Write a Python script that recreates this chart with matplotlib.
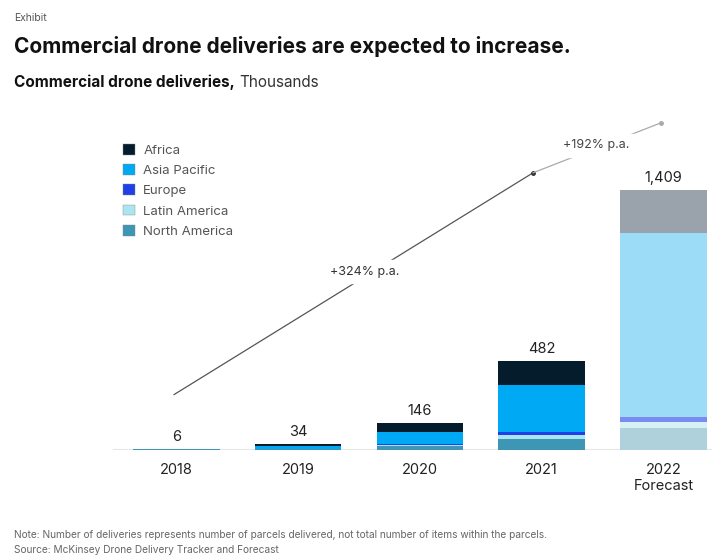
import matplotlib
matplotlib.use("Agg")
import matplotlib.pyplot as plt
from matplotlib.patches import Patch
import numpy as np

plt.rcParams["font.family"] = ["Inter", "DejaVu Sans"]

years = ["2018", "2019", "2020", "2021", "2022\nForecast"]
totals = [6, 34, 146, 482, 1409]
regions = ["Africa", "Asia Pacific", "Europe", "Latin America", "North America"]

# thousands of deliveries
north_america = [4, 4, 20, 58, 120]
latin_america = [0, 1, 6, 24, 33]
europe = [0, 1, 5, 16, 27]
asia_pacific = [1, 14, 65, 252, 993]
africa = [1, 14, 50, 132, 236]

colors = {
    "Africa": "#051c2c",
    "Asia Pacific": "#00a9f4",
    "Europe": "#1f40e6",
    "Latin America": "#aae6f0",
    "North America": "#3c96b4",
}
forecast_colors = {
    "Africa": "#9aa3ab",
    "Asia Pacific": "#9cdcf7",
    "Europe": "#7b8cf0",
    "Latin America": "#d6f2f7",
    "North America": "#aed1dc",
}

fig = plt.figure(figsize=(7.12, 5.58), dpi=100)
ax = fig.add_axes([0.159, 0.1935, 0.841, 0.6095])

x = np.arange(len(years))
width = 0.71
stack = [("North America", north_america), ("Latin America", latin_america),
         ("Europe", europe), ("Asia Pacific", asia_pacific), ("Africa", africa)]
bottom = np.zeros(len(years))
for name, vals in stack:
    vals = np.array(vals, dtype=float)
    cols = [colors[name]] * (len(years) - 1) + [forecast_colors[name]]
    ax.bar(x, vals, width, bottom=bottom, color=cols, linewidth=0)
    bottom += vals

for xi, t in zip(x, totals):
    ax.text(xi, bottom[xi] + 25, f"{t:,}", ha="center", va="bottom",
            fontsize=10.5, color="#222222")

ax.axhline(0, color="#e6e6e6", lw=1.5, zorder=0)

# growth arrows
ax.plot([-0.02, 2.93], [300, 1500], color="#555555", lw=0.9)
ax.plot([2.93], [1500], "o", color="#333333", ms=2.5)
ax.plot([2.93, 3.98], [1500, 1770], color="#aaaaaa", lw=0.9)
ax.plot([3.98], [1770], "o", color="#aaaaaa", ms=2.5)
ax.text(1.55, 965, "+324% p.a.", ha="center", va="center", fontsize=9,
        color="#333333", backgroundcolor="white")
ax.text(3.45, 1650, "+192% p.a.", ha="center", va="center", fontsize=9,
        color="#444444", backgroundcolor="white")

ax.set_xlim(-0.52, 4.4)
ax.set_ylim(0, 1840)
ax.set_xticks(x)
ax.set_xticklabels(years, fontsize=10.5, color="#222222")
ax.tick_params(axis="x", length=0, pad=9)
ax.set_yticks([])
for s in ax.spines.values():
    s.set_visible(False)

handles = [Patch(facecolor=colors[r], edgecolor="#888888", linewidth=0.3) for r in regions]
leg = fig.legend(handles, regions, loc="upper left", bbox_to_anchor=(0.166, 0.752),
                 frameon=False, fontsize=9.5, handlelength=0.9, handleheight=0.9,
                 handletextpad=0.6, labelspacing=0.55, borderaxespad=0)
for t in leg.get_texts():
    t.set_color("#555555")

fig.text(0.02, 0.967, "Exhibit", fontsize=7.5, color="#555555", va="center")
fig.text(0.02, 0.917, "Commercial drone deliveries are expected to increase.",
         fontsize=15, fontweight="bold", color="#111111", va="center")
t1 = fig.text(0.02, 0.853, "Commercial drone deliveries,", fontsize=11,
              fontweight="bold", color="#111111", va="center")
fig.canvas.draw()
bb = t1.get_window_extent().transformed(fig.transFigure.inverted())
fig.text(bb.x1 + 0.006, 0.853, "Thousands", fontsize=11, color="#333333", va="center")

fig.text(0.02, 0.041, "Note: Number of deliveries represents number of parcels delivered, "
         "not total number of items within the parcels.", fontsize=7.3, color="#666666",
         va="center")
fig.text(0.02, 0.014, "Source: McKinsey Drone Delivery Tracker and Forecast",
         fontsize=7.3, color="#666666", va="center")

fig.savefig("out.png", dpi=100)
